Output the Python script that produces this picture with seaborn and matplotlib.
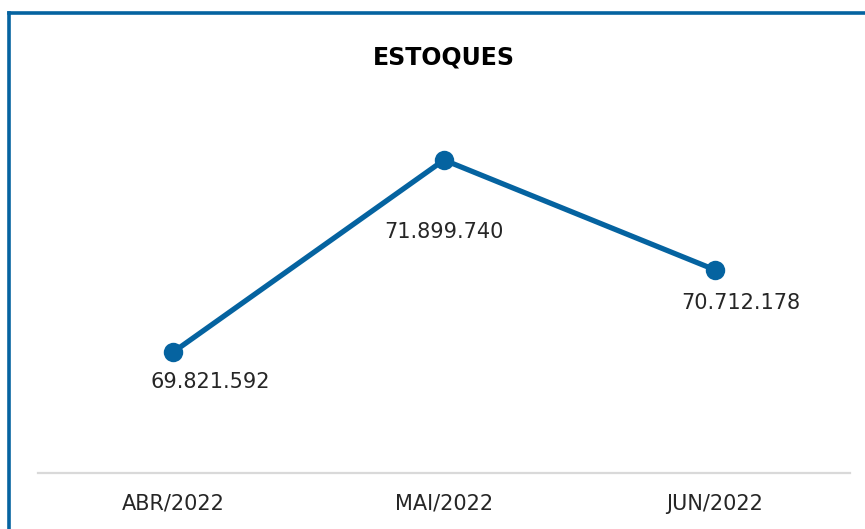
import matplotlib
matplotlib.use("Agg")
import matplotlib.pyplot as plt
import seaborn as sns
import pandas as pd
from matplotlib.lines import Line2D

# data
meses = ["ABR/2022", "MAI/2022", "JUN/2022"]
estoques = [69821592, 71899740, 70712178]

df = pd.DataFrame({"mes": meses, "estoque": estoques})

azul = "#0563A0"

sns.set_theme(style="white")
plt.rcParams["font.family"] = ["DejaVu Sans"]

fig = plt.figure(figsize=(8.65, 5.29), dpi=100)
ax = fig.add_axes([38 / 865, 1 - 473 / 529, 812 / 865, (473 - 110) / 529])

sns.lineplot(data=df, x="mes", y="estoque", ax=ax, color=azul, linewidth=3.8,
             marker="o", markersize=14, markeredgewidth=0, sort=False)

# label offsets (pixels), like the manually placed labels in the original
offsets = [(37, -30), (0, -72), (26, -33)]
for m, v, (dx, dy) in zip(meses, estoques, offsets):
    ax.annotate(f"{v:,}".replace(",", "."), (m, v), xytext=(dx, dy),
                textcoords="offset pixels", ha="center", va="center",
                fontsize=15, color="#262626")

ax.set_xlim(-0.5, 2.5)
ax.set_ylim(68512000, 72441000)
ax.set_xlabel("")
ax.set_ylabel("")
ax.set_yticks([])
ax.tick_params(axis="x", length=0, labelsize=15, colors="#262626", pad=15)
sns.despine(ax=ax, left=True, top=True, right=True)
ax.spines["bottom"].set_color("#d9d9d9")
ax.spines["bottom"].set_linewidth(1.6)

fig.text(444 / 865, 1 - 58 / 529, "ESTOQUES", ha="center", va="center",
         fontsize=17, fontweight="bold", color="black")

# chart frame (left and top edge visible)
fig.add_artist(Line2D([8.5 / 865, 8.5 / 865], [0, 1 - 13 / 529],
                      transform=fig.transFigure, color=azul, linewidth=2.6,
                      solid_capstyle="projecting"))
fig.add_artist(Line2D([8.5 / 865, 1], [1 - 13 / 529, 1 - 13 / 529],
                      transform=fig.transFigure, color=azul, linewidth=2.6,
                      solid_capstyle="projecting"))

fig.savefig("out.png", dpi=100, facecolor="white")
